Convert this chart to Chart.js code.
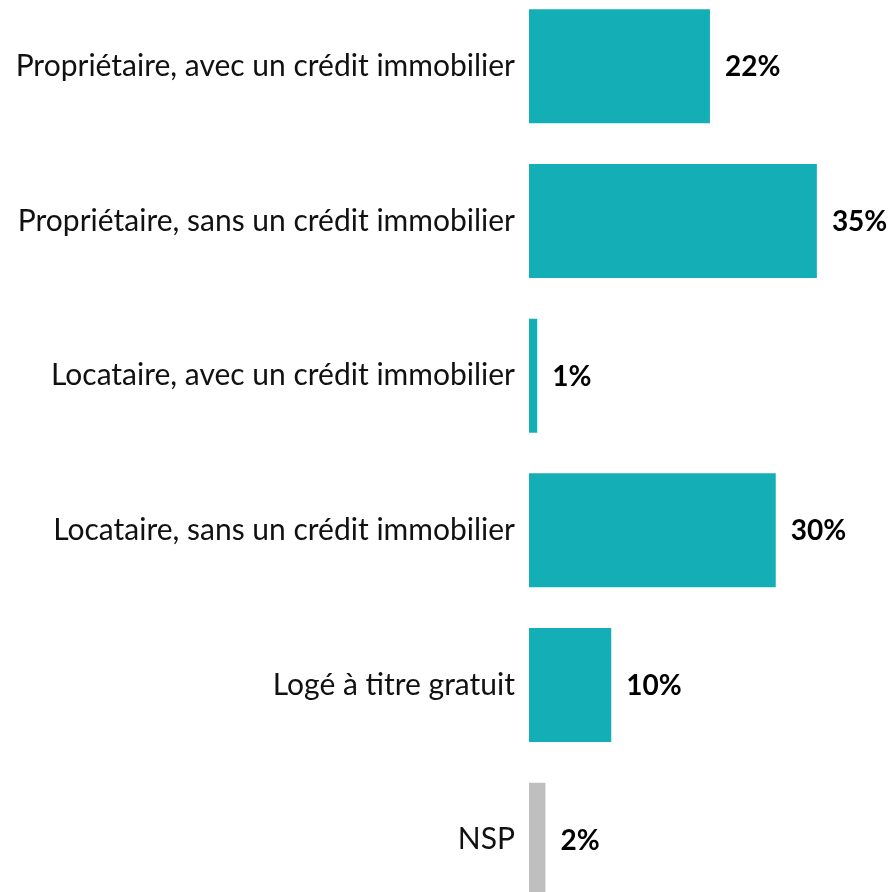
<!DOCTYPE html>
<html>
<head>
<meta charset="utf-8">
<script src="https://cdn.jsdelivr.net/npm/chart.js@4"></script>
<style>
    html, body { margin: 0; padding: 0; background: #fff; overflow: hidden; width: 892px; height: 892px; }
    #wrap { position: absolute; left: 0; top: -43px; width: 892px; height: 992px; }
</style>
</head>
<body>
<div id="wrap"><canvas id="chart"></canvas></div>
<script>
let categories = [
    'Propriétaire, avec un crédit immobilier',
    'Propriétaire, sans un crédit immobilier',
    'Locataire, avec un crédit immobilier',
    'Locataire, sans un crédit immobilier',
    'Logé à titre gratuit',
    'NSP'
];
let values = [22, 35, 1, 30, 10, 2];
let teal = '#14AFB6';
let grey = '#BFBFBF';
let barColors = categories.map(c => c === 'NSP' ? grey : teal);
let fontFamily = 'Lato, "Open Sans", sans-serif';
let fontSize = 30;

// draws the "22%" style labels after each bar
let valueLabels = {
    id: 'valueLabels',
    afterDatasetsDraw(chart) {
        let ctx = chart.ctx;
        let meta = chart.getDatasetMeta(0);
        ctx.save();
        ctx.font = 'bold 28px ' + fontFamily;
        ctx.fillStyle = '#000';
        ctx.textAlign = 'left';
        ctx.textBaseline = 'middle';
        meta.data.forEach((bar, i) => {
            ctx.fillText(values[i] + '%', bar.x + 15, bar.y + 1);
        });
        ctx.restore();
    }
};

new Chart(document.getElementById('chart').getContext('2d'), {
    type: 'bar',
    data: {
        labels: categories,
        datasets: [{
            data: values,
            backgroundColor: barColors,
            borderWidth: 0,
            categoryPercentage: 1,
            barPercentage: 0.737
        }]
    },
    options: {
        indexAxis: 'y',
        responsive: true,
        maintainAspectRatio: false,
        animation: false,
        layout: { padding: { left: 0, right: 34, top: 0, bottom: 0 } },
        plugins: {
            legend: { display: false },
            tooltip: { enabled: false }
        },
        scales: {
            x: {
                display: false,
                min: 0,
                max: 40
            },
            y: {
                grid: { display: false, drawTicks: false },
                border: { display: false },
                ticks: {
                    color: '#111',
                    padding: 14,
                    font: { family: fontFamily, size: fontSize }
                },
                afterFit(scale) {
                    scale.width = 529;
                }
            }
        }
    },
    plugins: [valueLabels]
});
</script>
</body>
</html>
